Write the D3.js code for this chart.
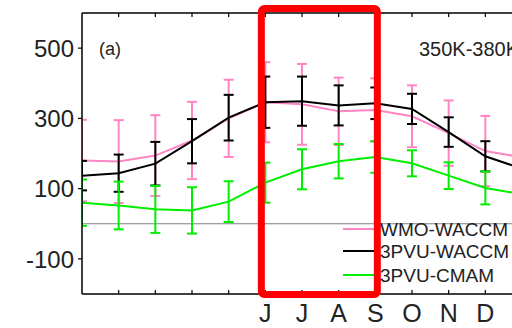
<!DOCTYPE html>
<html>
<head>
<meta charset="utf-8">
<script src="https://cdn.jsdelivr.net/npm/d3@7"></script>
<style>
  body { margin: 0; background: #fff; }
  svg { display: block; font-family: "Liberation Sans", Arial, sans-serif; }
</style>
</head>
<body>
<svg id="chart" width="512" height="328"></svg>
<script>
// month index 1..13 (13 = January of next year, off the right edge)
const months = [1, 2, 3, 4, 5, 6, 7, 8, 9, 10, 11, 12, 13];
const monthLabels = [
  { m: 6, t: "J" }, { m: 7, t: "J" }, { m: 8, t: "A" }, { m: 9, t: "S" },
  { m: 10, t: "O" }, { m: 11, t: "N" }, { m: 12, t: "D" }
];
const yTicks = [500, 300, 100, -100];

const wmoWaccm    = [180, 177, 194, 237, 300, 346, 340, 320, 324, 306, 258, 207, 189];
const wmoWaccmErr = [116, 118, 115, 110, 110, 114, 115, 96, 90, 88, 93, 100, 100];
const pvuWaccm    = [137, 144, 171, 235, 302, 346, 349, 337, 343, 327, 261, 192, 157];
const pvuWaccmErr = [42, 53, 62, 63, 65, 73, 70, 57, 45, 43, 42, 43, 43];
const pvuCmam     = [60, 52, 41, 38, 63, 117, 155, 178, 190, 172, 137, 102, 84];
const pvuCmamErr  = [66, 68, 67, 66, 58, 57, 57, 49, 45, 37, 38, 47, 47];

const series = [
  { name: "WMO-WACCM",  values: wmoWaccm, err: wmoWaccmErr, color: "#ff85c4" },
  { name: "3PVU-WACCM", values: pvuWaccm, err: pvuWaccmErr, color: "#000000" },
  { name: "3PVU-CMAM",  values: pvuCmam,  err: pvuCmamErr,  color: "#00ee00" }
];

const svg = d3.select("#chart");
const plotLeft = 82, plotTop = 13, plotBottom = 294, plotRight = 540;

const x = d3.scaleLinear().domain([1, 13]).range([plotLeft, 522]);
const y = d3.scaleLinear().domain([-200, 600]).range([plotBottom, plotTop]);

svg.append("defs").append("clipPath").attr("id", "plotclip")
  .append("rect").attr("x", plotLeft).attr("y", plotTop)
  .attr("width", plotRight - plotLeft).attr("height", plotBottom - plotTop);

const plot = svg.append("g").attr("clip-path", "url(#plotclip)");

// zero line
plot.append("line")
  .attr("x1", plotLeft).attr("x2", plotRight)
  .attr("y1", y(0)).attr("y2", y(0))
  .attr("stroke", "#808080").attr("stroke-width", 1.2);

const line = d3.line().x((d, i) => x(months[i])).y(d => y(d));

series.forEach(s => {
  const g = plot.append("g");
  g.append("path")
    .attr("d", line(s.values))
    .attr("fill", "none")
    .attr("stroke", s.color)
    .attr("stroke-width", 2);

  const bars = g.selectAll(".eb").data(s.values).enter().append("g");
  bars.append("line")
    .attr("x1", (d, i) => x(months[i])).attr("x2", (d, i) => x(months[i]))
    .attr("y1", (d, i) => y(d + s.err[i])).attr("y2", (d, i) => y(d - s.err[i]))
    .attr("stroke", s.color).attr("stroke-width", 2);
  [1, -1].forEach(sign => {
    bars.append("line")
      .attr("x1", (d, i) => x(months[i]) - 5).attr("x2", (d, i) => x(months[i]) + 5)
      .attr("y1", (d, i) => y(d + sign * s.err[i])).attr("y2", (d, i) => y(d + sign * s.err[i]))
      .attr("stroke", s.color).attr("stroke-width", 2);
  });
});

// legend
const legend = svg.append("g");
const legendY = [229, 251, 275];
series.forEach((s, i) => {
  legend.append("line")
    .attr("x1", 343).attr("x2", 378)
    .attr("y1", legendY[i]).attr("y2", legendY[i])
    .attr("stroke", s.color).attr("stroke-width", 2);
  legend.append("text")
    .attr("x", 380).attr("y", legendY[i] + 7)
    .attr("font-size", 19).attr("fill", "#222")
    .text(s.name);
});

// axes frame
const axisG = svg.append("g");
axisG.append("line").attr("x1", plotLeft).attr("x2", plotRight).attr("y1", plotTop).attr("y2", plotTop)
  .attr("stroke", "#000").attr("stroke-width", 1.5);
axisG.append("line").attr("x1", plotLeft).attr("x2", plotRight).attr("y1", plotBottom).attr("y2", plotBottom)
  .attr("stroke", "#000").attr("stroke-width", 1.5);
axisG.append("line").attr("x1", plotLeft).attr("x2", plotLeft).attr("y1", plotTop).attr("y2", plotBottom)
  .attr("stroke", "#000").attr("stroke-width", 1.5);

// month ticks on top and bottom (inward)
months.slice(1, 12).forEach(m => {
  axisG.append("line").attr("x1", x(m)).attr("x2", x(m)).attr("y1", plotTop).attr("y2", plotTop + 4)
    .attr("stroke", "#000").attr("stroke-width", 1.2);
  axisG.append("line").attr("x1", x(m)).attr("x2", x(m)).attr("y1", plotBottom).attr("y2", plotBottom - 4)
    .attr("stroke", "#000").attr("stroke-width", 1.2);
});

// y ticks and labels
yTicks.forEach(v => {
  axisG.append("line").attr("x1", plotLeft - 4).attr("x2", plotLeft).attr("y1", y(v)).attr("y2", y(v))
    .attr("stroke", "#000").attr("stroke-width", 1.2);
  axisG.append("text")
    .attr("x", plotLeft - 8).attr("y", y(v)).attr("dy", "0.36em")
    .attr("text-anchor", "end").attr("font-size", 24).attr("fill", "#222")
    .text(v);
});

// month labels
monthLabels.forEach(d => {
  axisG.append("text")
    .attr("x", x(d.m)).attr("y", 322)
    .attr("text-anchor", "middle").attr("font-size", 25).attr("fill", "#222")
    .text(d.t);
});

// panel annotations
svg.append("text").attr("x", 99).attr("y", 54.5).attr("font-size", 18).attr("fill", "#222").text("(a)");
svg.append("text").attr("x", 419).attr("y", 56).attr("font-size", 20).attr("fill", "#222").text("350K-380K");

// red highlight box over Jun-Sep
svg.append("rect")
  .attr("x", x(6) - 4).attr("y", 8.5)
  .attr("width", x(9) - x(6) + 6).attr("height", 286)
  .attr("rx", 3)
  .attr("fill", "none")
  .attr("stroke", "#ff0000")
  .attr("stroke-width", 7);
</script>
</body>
</html>
